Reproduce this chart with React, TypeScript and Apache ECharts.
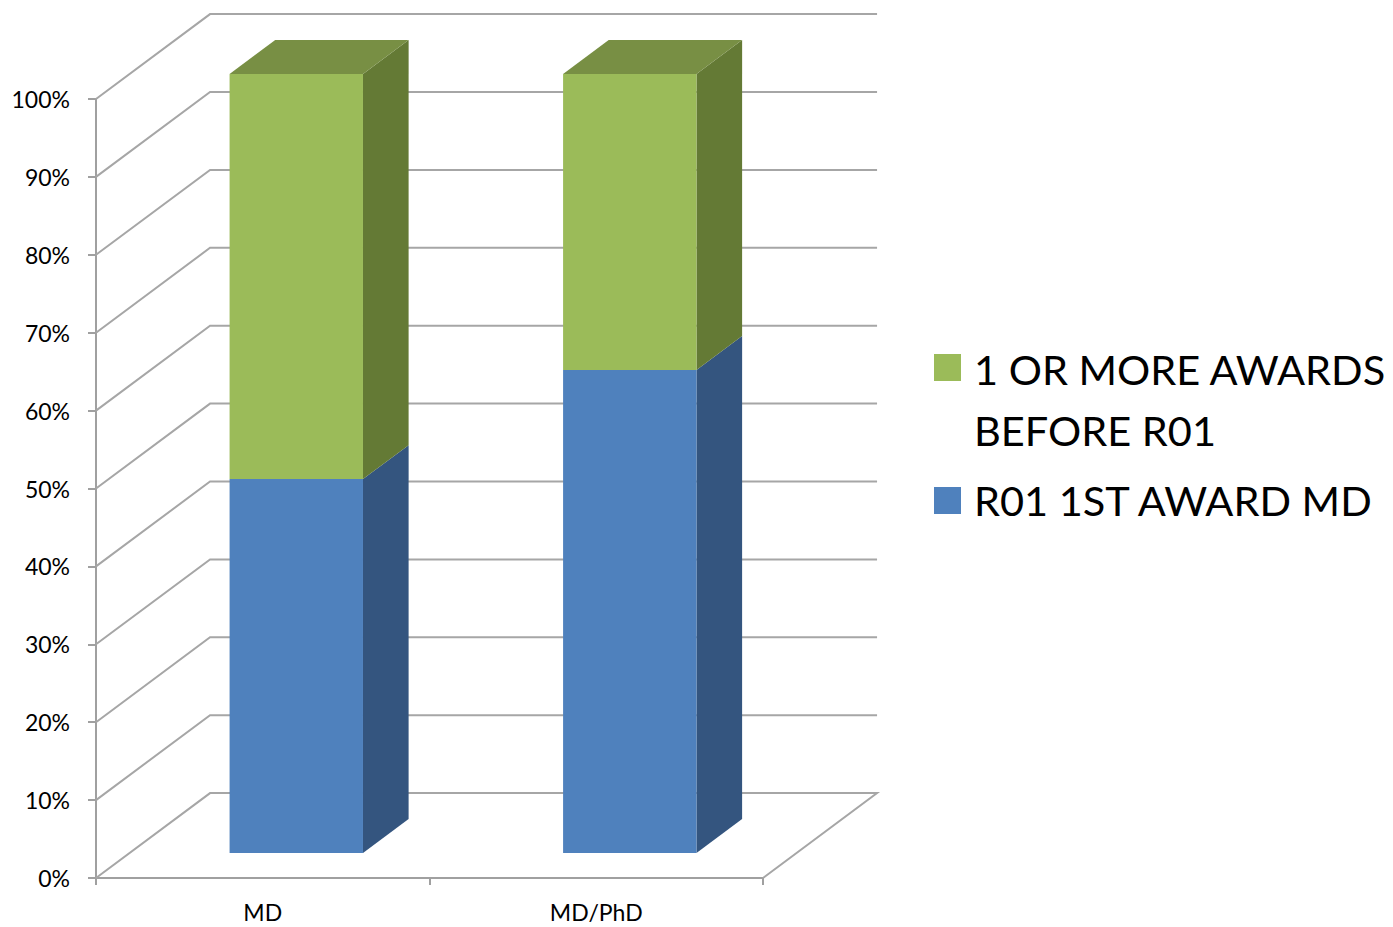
import React, { useEffect, useRef } from "react";
import * as echarts from "echarts";

const categories = ["MD", "MD/PhD"];
const seriesNames = ["R01 1ST AWARD MD", "1 OR MORE AWARDS BEFORE R01"];
const firstAwardValues = [48, 62];
const priorAwardsValues = [52, 38];
const yTicks = [0, 10, 20, 30, 40, 50, 60, 70, 80, 90, 100];

const BLUE = { front: "#4F81BD", side: "#34557F", top: "#3F6797" };
const GREEN = { front: "#9BBB59", side: "#647A35", top: "#788F44" };

// depth of the 3D box as fraction of grid size
const DEPTH_X = 0.171;
const DEPTH_Y = 0.109;
const BAR_WIDTH = 0.4;
const F0 = 0.294;
const F1 = 0.694;

export default function App() {
  const ref = useRef<HTMLDivElement>(null);
  useEffect(() => {
    document.body.style.margin = "0";
    if (!ref.current) return;
    const chart = echarts.init(ref.current, null, { renderer: "svg" });

    const wallRender = (params: any, api: any) => {
      const cs = params.coordSys;
      const dx = cs.width * DEPTH_X;
      const dy = -cs.height * DEPTH_Y;
      const v = api.value(1);
      const y = api.coord([0, v])[1];
      const x0 = cs.x;
      const x1 = cs.x + cs.width;
      const pts: number[][] = [
        [x0, y],
        [x0 + dx, y + dy],
        [x1 + dx, y + dy],
      ];
      if (v === 0) pts.push([x1, y]);
      return {
        type: "polyline",
        shape: { points: pts },
        style: { stroke: "#A6A6A6", lineWidth: 2, fill: "none" },
        silent: true,
      };
    };

    const makeBarRender = (colors: any, isTop: boolean) => (params: any, api: any) => {
      const cs = params.coordSys;
      const dx = cs.width * DEPTH_X;
      const dy = -cs.height * DEPTH_Y;
      const idx = api.value(0);
      const base = api.value(1);
      const val = api.value(2);
      const cx = api.coord([idx, 0])[0];
      const band = api.size([1, 0])[0];
      const w = band * BAR_WIDTH;
      const yb = api.coord([idx, base])[1] + F0 * dy;
      const yt = api.coord([idx, base + val])[1] + F0 * dy;
      const xl = cx - w / 2 + F0 * dx;
      const xr = xl + w;
      const ddx = (F1 - F0) * dx;
      const ddy = (F1 - F0) * dy;
      const children: any[] = [
        {
          type: "polygon",
          shape: { points: [[xr, yb], [xr + ddx, yb + ddy], [xr + ddx, yt + ddy], [xr, yt]] },
          style: { fill: colors.side },
        },
        {
          type: "rect",
          shape: { x: xl, y: yt, width: w, height: yb - yt },
          style: { fill: colors.front },
        },
      ];
      if (isTop) {
        children.push({
          type: "polygon",
          shape: { points: [[xl, yt], [xr, yt], [xr + ddx, yt + ddy], [xl + ddx, yt + ddy]] },
          style: { fill: colors.top },
        });
      }
      return { type: "group", children };
    };

    chart.setOption({
      animation: false,
      backgroundColor: "#FFFFFF",
      grid: { left: 96, top: 99, width: 667, height: 779 },
      xAxis: {
        type: "category",
        data: categories,
        axisLine: { lineStyle: { color: "#A0A0A0", width: 2 } },
        axisTick: { show: true, length: 7, lineStyle: { color: "#A0A0A0", width: 2 } },
        axisLabel: { color: "#000", fontFamily: "Lato", fontSize: 23, margin: 22 },
        splitLine: { show: false },
      },
      yAxis: {
        type: "value",
        min: 0,
        max: 100,
        interval: 10,
        axisLine: { show: true, lineStyle: { color: "#A0A0A0", width: 2 } },
        axisTick: { show: true, length: 8, lineStyle: { color: "#A0A0A0", width: 2 } },
        axisLabel: { color: "#000", fontFamily: "Lato", fontSize: 23, margin: 26, formatter: "{value}%" },
        splitLine: { show: false },
      },
      series: [
        {
          type: "custom",
          name: "walls",
          renderItem: wallRender,
          data: yTicks.map((v) => [0, v]),
          encode: { x: 0, y: 1 },
          silent: true,
          z: 1,
        },
        {
          type: "custom",
          name: seriesNames[0],
          renderItem: makeBarRender(BLUE, false),
          itemStyle: { color: BLUE.front },
          data: firstAwardValues.map((v, i) => [i, 0, v]),
          encode: { x: 0, y: 2 },
          z: 2,
        },
        {
          type: "custom",
          name: seriesNames[1],
          renderItem: makeBarRender(GREEN, true),
          itemStyle: { color: GREEN.front },
          data: priorAwardsValues.map((v, i) => [i, firstAwardValues[i], v]),
          encode: { x: 0, y: 2 },
          z: 3,
        },
      ],
      graphic: [
        { type: "rect", left: 934, top: 354, shape: { width: 27, height: 27 }, style: { fill: GREEN.front } },
        {
          type: "text",
          x: 974,
          y: 399.5,
          style: {
            text: "1 OR MORE AWARDS\nBEFORE R01",
            fontFamily: "Lato",
            fontSize: 41.5,
            lineHeight: 61,
            fill: "#000",
            verticalAlign: "middle",
            align: "left",
          },
        },
        { type: "rect", left: 934, top: 487, shape: { width: 27, height: 27 }, style: { fill: BLUE.front } },
        {
          type: "text",
          x: 974,
          y: 500,
          style: {
            text: "R01 1ST AWARD MD",
            fontFamily: "Lato",
            fontSize: 41.5,
            fill: "#000",
            verticalAlign: "middle",
            align: "left",
          },
        },
      ],
    });
    return () => chart.dispose();
  }, []);
  return <div ref={ref} style={{ width: 1393, height: 927 }} />;
}
